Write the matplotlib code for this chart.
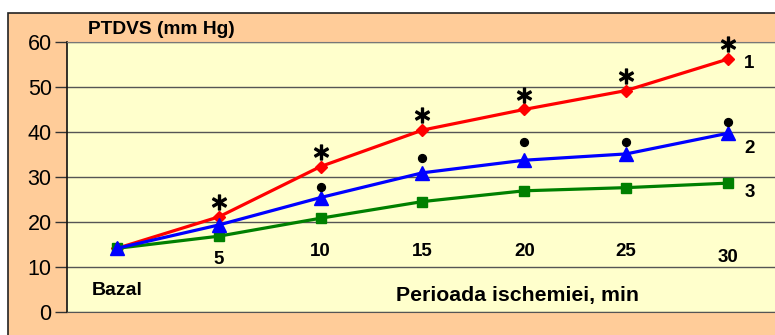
import matplotlib
matplotlib.use("Agg")
import matplotlib.pyplot as plt
from matplotlib.patches import Rectangle
import numpy as np

plt.rcParams['font.family'] = ['Liberation Sans', 'DejaVu Sans']

# Time points of ischemia
categories = ["Bazal", "5", "10", "15", "20", "25", "30"]
# PTDVS (mm Hg) for the three groups
series_1 = [14.1, 21.1, 32.3, 40.4, 45.0, 49.2, 56.2]
series_2 = [14.1, 19.3, 25.4, 30.9, 33.7, 35.1, 39.7]
series_3 = [14.1, 16.8, 20.8, 24.5, 26.9, 27.6, 28.6]
series_names = ["1", "2", "3"]
# Significance marks: asterisks above series 1, dots above series 2
star_idx = [1, 2, 3, 4, 5, 6]
dot_idx = [2, 3, 4, 5, 6]
dot_y = [27.7, 34.1, 37.8, 37.8, 42.1]
y_ticks = [0, 10, 20, 30, 40, 50, 60]

W, H = 775, 335
fig = plt.figure(figsize=(W / 100, H / 100), dpi=100)
fig.patch.set_facecolor("white")

# outer orange chart frame
fig.patches.append(Rectangle((8 / W, -0.1), 1.1, 1 - 13 / H + 0.1,
                             transform=fig.transFigure, facecolor="#FFCC99",
                             edgecolor="#222222", linewidth=1.2, zorder=-5))

ax = fig.add_axes([67 / W, (H - 311.7) / H, (W - 67) / W, (311.7 - 42) / H])
ax.set_zorder(1)
ax.set_facecolor("#FFFFCC")
ax.set_xlim(-0.491, 6.462)
ax.set_ylim(0, 60)

x = np.arange(len(categories))

ax.set_yticks(y_ticks)
ax.set_yticklabels([str(v) for v in y_ticks], fontsize=15.5)
ax.tick_params(axis="y", length=9, width=1, color="#333333", pad=2)
ax.set_xticks([])
ax.yaxis.grid(True, color="#555555", linewidth=1.0)
ax.set_axisbelow(True)
ax.spines["left"].set_color("#111111")
ax.spines["left"].set_linewidth(1.2)
ax.spines["top"].set_color("#777777")
ax.spines["bottom"].set_color("#555555")
ax.spines["right"].set_visible(False)

ax.plot(x, series_1, color="#FF0000", lw=2.3, marker="D", ms=6.5, zorder=3)
ax.plot(x, series_3, color="#008000", lw=2.3, marker="s", ms=7.5, zorder=4)
ax.plot(x, series_2, color="#0000FF", lw=2.3, marker="^", ms=9.5, zorder=5)

# significance markers
ax.scatter([x[i] for i in star_idx], [series_1[i] + 3.3 for i in star_idx],
           marker=r"$\ast$", s=115, color="black", linewidths=1.0,
           zorder=6, clip_on=False)
ax.scatter([x[i] for i in dot_idx], dot_y, marker="o", s=32,
           color="black", zorder=6)

# category labels inside the plot
label_y = [4.8, 11.7, 13.3, 13.3, 13.3, 13.3, 12.0]
for i, lab in enumerate(categories):
    ax.text(x[i], label_y[i], lab, ha="center", va="center",
            fontsize=13.5 if i else 14, fontweight="bold")

# series labels at the right end
for name, yv in zip(series_names, [55.3, 36.4, 26.6]):
    ax.text(6.16, yv, name, ha="left", va="center",
            fontsize=13.5, fontweight="bold")

ax.text(3.93, 3.7, "Perioada ischemiei, min", ha="center", va="center",
        fontsize=15.3, fontweight="bold")

fig.text(88 / W, 1 - 29 / H, "PTDVS (mm Hg)", ha="left", va="center",
         fontsize=13.8, fontweight="bold")

fig.savefig("out.png", dpi=100)
